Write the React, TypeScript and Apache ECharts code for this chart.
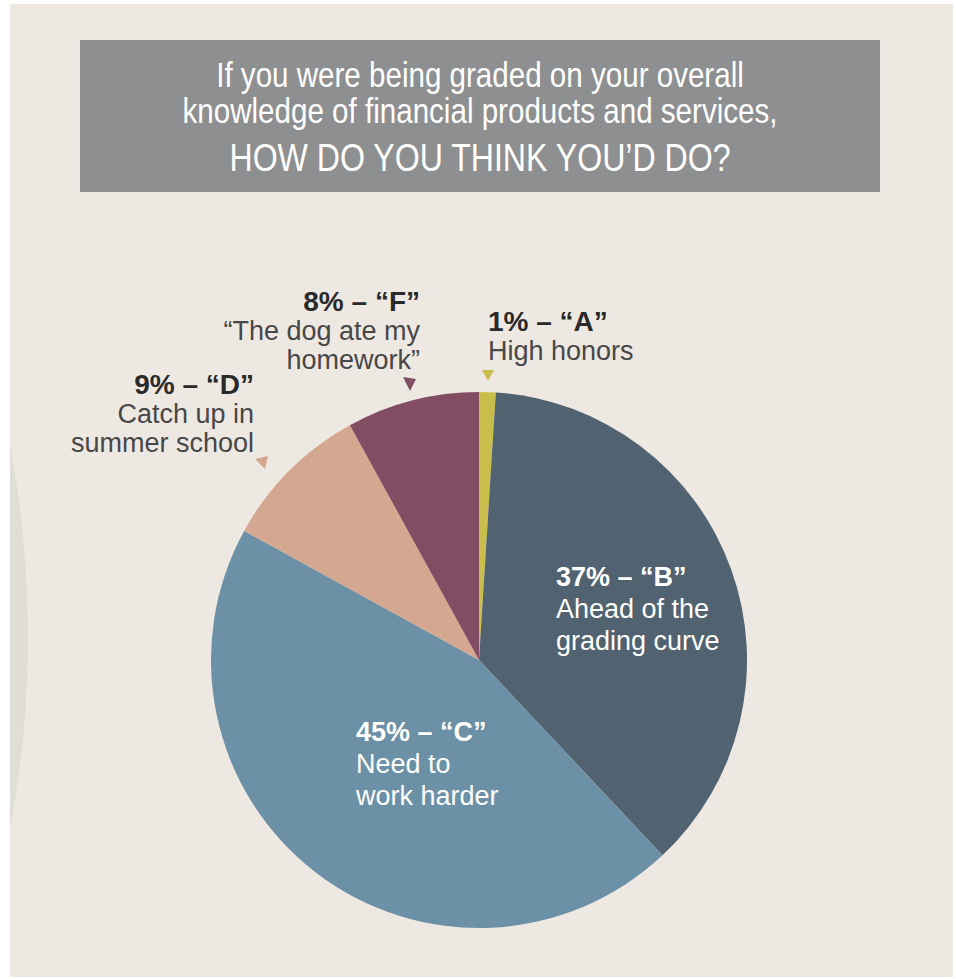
import React, { useEffect, useRef } from "react";
import * as echarts from "echarts";

const TITLE_LINES = [
  "If you were being graded on your overall",
  "knowledge of financial products and services,",
  "HOW DO YOU THINK YOU’D DO?",
];

const GRADES = ["A", "B", "C", "D", "F"];
const PERCENTS = [1, 37, 45, 9, 8];
const DESCRIPTIONS = [
  "High honors",
  "Ahead of the\ngrading curve",
  "Need to\nwork harder",
  "Catch up in\nsummer school",
  "“The dog ate my\nhomework”",
];
const COLORS = ["#c9bd4b", "#516270", "#6c90a5", "#d3a790", "#814d63"];

// label anchor positions (layout only)
const LABEL_POS = [
  { x: 488, y: 307, align: "left", inside: false },
  { x: 556, y: 561, align: "left", inside: true },
  { x: 356, y: 716, align: "left", inside: true },
  { x: 254, y: 370, align: "right", inside: false },
  { x: 420, y: 287, align: "right", inside: false },
];

const FONT = "'Liberation Sans', Arial, sans-serif";

export default function App() {
  const ref = useRef<HTMLDivElement>(null);
  useEffect(() => {
    if (!ref.current) return;
    const chart = echarts.init(ref.current, null, { renderer: "svg" });
    const data = GRADES.map((g, i) => ({
      name: g,
      value: PERCENTS[i],
      itemStyle: { color: COLORS[i] },
      label: {
        formatter: `{${LABEL_POS[i].inside ? "bi" : "bo"}|${PERCENTS[i]}% – “${g}”}\n{${LABEL_POS[i].inside ? "ri" : "ro"}|${DESCRIPTIONS[i]}}`,
      },
    }));
    const titleText = (text: string, y: number, size: number) => ({
      type: "text",
      z: 5,
      x: 480,
      y,
      scaleX: 0.845,
      style: { text, x: 0, y: 0, fill: "#ffffff", font: `${size}px ${FONT}`, align: "center", verticalAlign: "middle" },
    });
    chart.setOption({
      animation: false,
      backgroundColor: "#ffffff",
      graphic: [
        { type: "rect", z: -5, shape: { x: 10, y: 4, width: 943, height: 973 }, style: { fill: "#eee8e3" } },
        { type: "circle", z: -4, shape: { cx: -1005, cy: 637, r: 1033 }, style: { fill: "#dfddd5" } },
        { type: "rect", z: -3, shape: { x: 0, y: 0, width: 10, height: 979 }, style: { fill: "#ffffff" } },
        { type: "rect", z: -2, shape: { x: 80, y: 40, width: 800, height: 152 }, style: { fill: "#8e8f91" } },
        titleText(TITLE_LINES[0], 75, 35),
        titleText(TITLE_LINES[1], 111, 35),
        titleText(TITLE_LINES[2], 157, 38),
        { type: "polygon", z: 5, shape: { points: [[482, 370], [494, 370], [488, 381]] }, style: { fill: COLORS[0] } },
        { type: "polygon", z: 5, shape: { points: [[403, 377], [416, 379], [410, 391]] }, style: { fill: COLORS[4] } },
        { type: "polygon", z: 5, shape: { points: [[255, 459], [268, 456], [265, 469]] }, style: { fill: COLORS[3] } },
      ],
      series: [
        {
          type: "pie",
          center: [479, 660],
          radius: [0, 268],
          startAngle: 90,
          clockwise: true,
          avoidLabelOverlap: false,
          silent: true,
          labelLine: { show: false },
          label: {
            show: true,
            position: "inside",
            rotate: 0,
            rich: {
              bo: { fontFamily: FONT, fontSize: 28, fontWeight: "bold", color: "#2a2a2a", lineHeight: 29 },
              ro: { fontFamily: FONT, fontSize: 27, color: "#474747", lineHeight: 29 },
              bi: { fontFamily: FONT, fontSize: 27, fontWeight: "bold", color: "#ffffff", lineHeight: 32 },
              ri: { fontFamily: FONT, fontSize: 27, color: "#ffffff", lineHeight: 32 },
            },
          },
          labelLayout: (p: any) => {
            const pos = LABEL_POS[p.dataIndex];
            return { x: pos.x, y: pos.y, align: pos.align, verticalAlign: "top" };
          },
          data,
        },
      ],
    });
    return () => chart.dispose();
  }, []);
  return <div ref={ref} style={{ position: "fixed", left: 0, top: 0, width: 956, height: 979 }} />;
}
